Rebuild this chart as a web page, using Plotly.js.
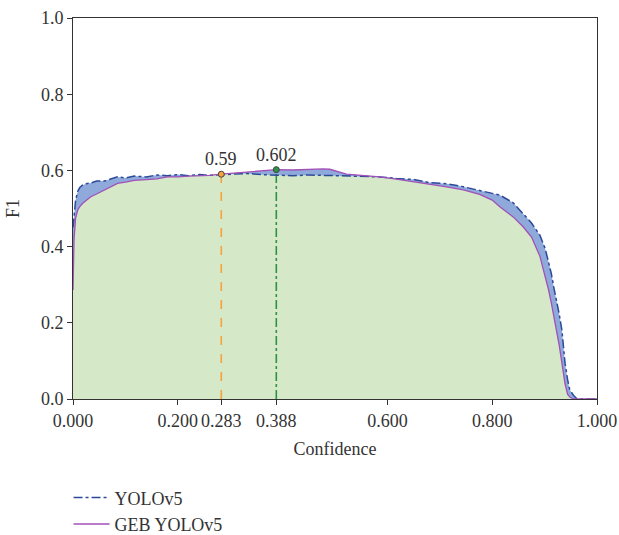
<!DOCTYPE html>
<html>
<head>
<meta charset="utf-8">
<script src="https://cdn.plot.ly/plotly-3.0.1.min.js"></script>
<style>html,body{margin:0;padding:0;background:#fff;}#chart{width:619px;height:535px;}</style>
</head>
<body>
<div id="chart"></div>
<script>
var confidence = [0, 0.002, 0.005, 0.009, 0.013, 0.018, 0.025, 0.034, 0.045, 0.06, 0.072, 0.085, 0.1, 0.117, 0.14, 0.16, 0.18, 0.2, 0.22, 0.242, 0.26, 0.283, 0.3, 0.331, 0.36, 0.388, 0.42, 0.45, 0.477, 0.49, 0.51, 0.522, 0.55, 0.585, 0.617, 0.65, 0.68, 0.713, 0.745, 0.776, 0.8, 0.815, 0.84, 0.859, 0.875, 0.891, 0.901, 0.907, 0.913, 0.918, 0.923, 0.928, 0.933, 0.939, 0.944, 0.948, 0.955, 0.962, 1.0];
var yolov5F1 = [0.45, 0.478, 0.522, 0.545, 0.555, 0.561, 0.565, 0.567, 0.572, 0.572, 0.578, 0.583, 0.580, 0.585, 0.583, 0.588, 0.586, 0.589, 0.586, 0.589, 0.587, 0.589, 0.591, 0.592, 0.589, 0.587, 0.586, 0.588, 0.587, 0.586, 0.586, 0.585, 0.584, 0.583, 0.579, 0.576, 0.568, 0.565, 0.557, 0.548, 0.540, 0.535, 0.515, 0.487, 0.462, 0.430, 0.395, 0.362, 0.328, 0.290, 0.260, 0.222, 0.181, 0.094, 0.050, 0.024, 0.010, 0.000, 0.000];
var gebF1 = [0.286, 0.42, 0.475, 0.496, 0.505, 0.513, 0.521, 0.531, 0.538, 0.548, 0.556, 0.566, 0.569, 0.574, 0.576, 0.578, 0.583, 0.583, 0.585, 0.586, 0.587, 0.590, 0.592, 0.596, 0.598, 0.602, 0.601, 0.603, 0.604, 0.603, 0.596, 0.590, 0.587, 0.583, 0.577, 0.570, 0.565, 0.557, 0.549, 0.537, 0.522, 0.504, 0.478, 0.452, 0.425, 0.375, 0.321, 0.290, 0.251, 0.215, 0.183, 0.140, 0.095, 0.040, 0.012, 0.005, 0.000, 0.000, 0.000];
var bestConf = [0.283, 0.388];
var bestF1 = [0.59, 0.602];
var bestLabels = ["0.59", "0.602"];
var xTickVals = [0, 0.2, 0.283, 0.388, 0.6, 0.8, 1.0];
var xTickText = ["0.000", "0.200", "0.283", "0.388", "0.600", "0.800", "1.000"];
var yTickVals = [0, 0.2, 0.4, 0.6, 0.8, 1.0];

var lowerF1 = confidence.map(function(_, i){ return Math.min(yolov5F1[i], gebF1[i]); });
var upperF1 = confidence.map(function(_, i){ return Math.max(yolov5F1[i], gebF1[i]); });

var FONT = "Liberation Serif, Times New Roman, serif";
var FS = 18;
var bestColors = ["#F7A23A", "#2E9148"];
var bestDash = ["dash", "dashdot"];

var traces = [
  {x: confidence, y: upperF1, type: "scatter", mode: "lines", line: {width: 0}, fill: "tozeroy", fillcolor: "#90A9DB", showlegend: false, hoverinfo: "skip"},
  {x: confidence, y: lowerF1, type: "scatter", mode: "lines", line: {width: 0}, fill: "tozeroy", fillcolor: "#D5E9C8", showlegend: false, hoverinfo: "skip"}
];
for (var k = 0; k < bestConf.length; k++) {
  traces.push({x: [bestConf[k], bestConf[k]], y: [0, bestF1[k]], type: "scatter", mode: "lines",
    line: {color: bestColors[k], width: 1.6, dash: bestDash[k]}, showlegend: false});
}
traces.push({x: confidence, y: yolov5F1, type: "scatter", mode: "lines", name: "YOLOv5",
  line: {color: "#2C4A9A", width: 1.5, dash: "dashdot"}});
traces.push({x: confidence, y: gebF1, type: "scatter", mode: "lines", name: "GEB YOLOv5",
  line: {color: "#A050B8", width: 1.3}});
traces.push({x: bestConf, y: bestF1, type: "scatter", mode: "markers", showlegend: false,
  marker: {color: bestColors, size: 6, line: {color: "#444", width: 1}}});

var annotations = bestConf.map(function(c, i){
  return {x: c, y: bestF1[i], xref: "x", yref: "y", text: bestLabels[i], showarrow: false,
    yanchor: "bottom", yshift: 3, font: {family: FONT, size: FS, color: "#333"}};
});

var layout = {
  width: 619, height: 535,
  margin: {l: 73, r: 22, t: 18, b: 136, autoexpand: false},
  paper_bgcolor: "#fff", plot_bgcolor: "#fff",
  font: {family: FONT, size: FS, color: "#333"},
  showlegend: true,
  legend: {x: -0.0085, y: -0.211, xanchor: "left", yanchor: "top", orientation: "v", itemwidth: 36,
    font: {family: FONT, size: FS, color: "#333"}, bgcolor: "rgba(0,0,0,0)", tracegroupgap: 0},
  xaxis: {range: [0, 1], tickvals: xTickVals, ticktext: xTickText, ticks: "outside", ticklen: 5,
    tickcolor: "#333", showline: true, linecolor: "#333", linewidth: 1, mirror: true,
    showgrid: false, zeroline: false, tickfont: {family: FONT, size: FS, color: "#333"},
    title: {text: "Confidence", font: {family: FONT, size: FS, color: "#333"}, standoff: 12}},
  yaxis: {range: [0, 1], tickvals: yTickVals, tickformat: ".1f", ticks: "outside", ticklen: 5,
    tickcolor: "#333", showline: true, linecolor: "#333", linewidth: 1, mirror: true,
    showgrid: false, zeroline: false, tickfont: {family: FONT, size: FS, color: "#333"},
    title: {text: "F1", font: {family: FONT, size: FS, color: "#333"}, standoff: 16}},
  annotations: annotations
};

Plotly.newPlot("chart", traces, layout, {displayModeBar: false, staticPlot: true});
</script>
</body>
</html>
